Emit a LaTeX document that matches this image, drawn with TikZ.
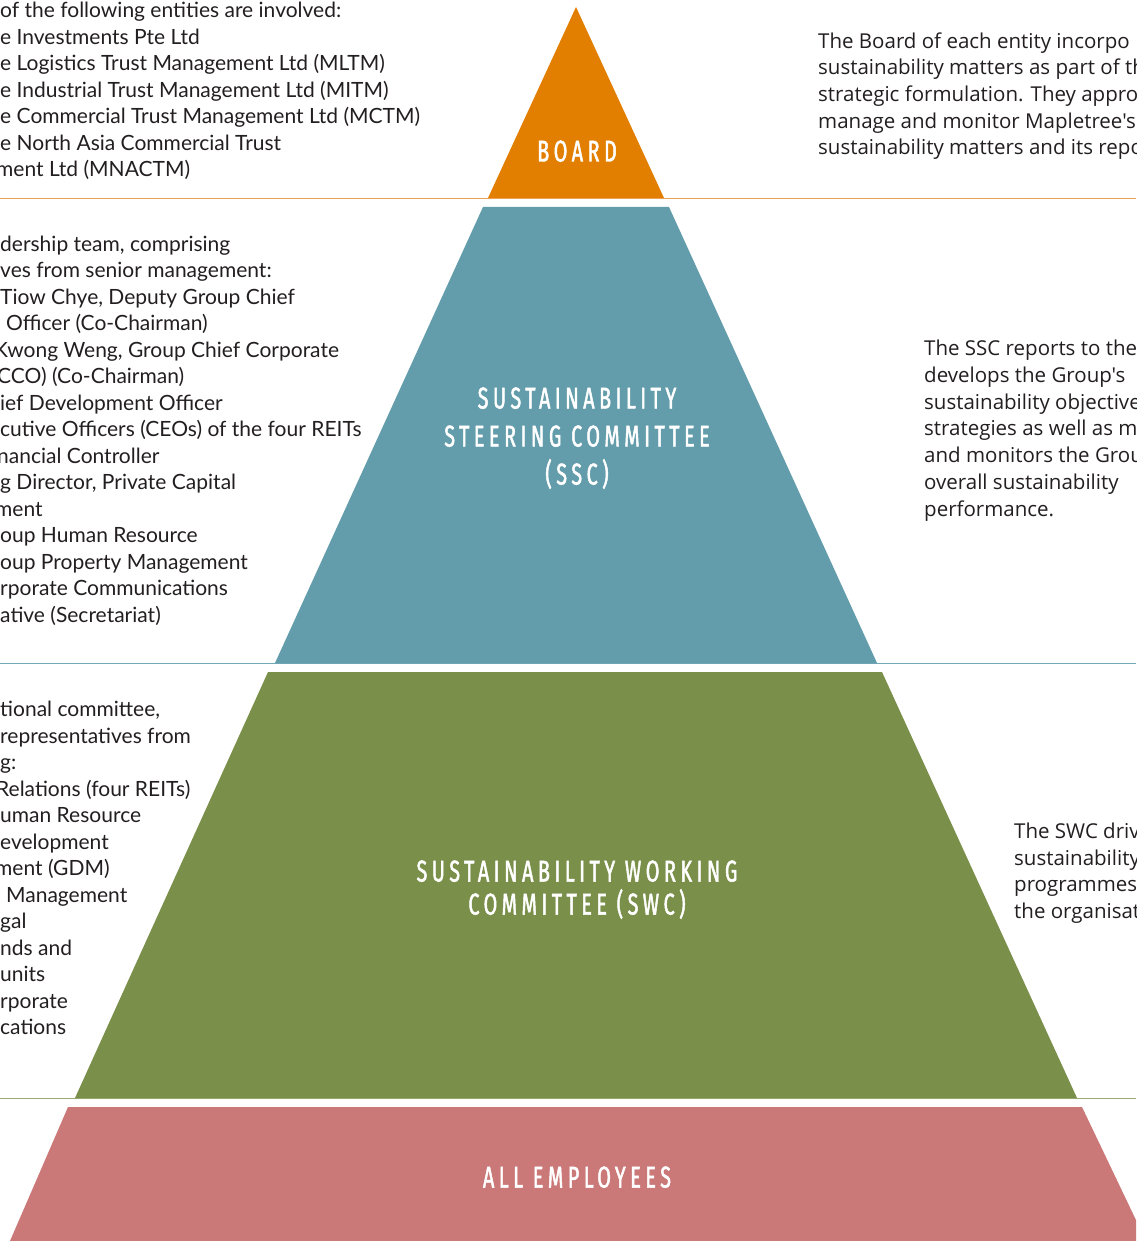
\documentclass[tikz,border=0pt]{standalone}
\usepackage{fontspec}
\setmainfont{Lato}
\newfontfamily\leftfont{Lato}
\newfontfamily\rightfont{Open Sans}
\newfontfamily\labfont[LetterSpace=15,FakeStretch=0.66,FakeBold=1.6]{Fira Sans}
\definecolor{boardc}{HTML}{E27F00}
\definecolor{boardl}{HTML}{E9A157}
\definecolor{sscc}{HTML}{639CAA}
\definecolor{sscl}{HTML}{72A8B6}
\definecolor{swcc}{HTML}{7A8F4A}
\definecolor{swcl}{HTML}{98AA72}
\definecolor{empc}{HTML}{CA7878}
\definecolor{txt}{HTML}{231F20}
\tikzset{
  lefttext/.style={anchor=base west, align=left, inner sep=0pt, text=txt,
    font=\leftfont\fontsize{21}{26.5}\selectfont},
  righttext/.style={anchor=base west, align=left, inner sep=0pt, text=txt,
    font=\rightfont\fontsize{20.5}{26.7}\selectfont},
  tierlabel/.style={anchor=base, inner sep=0pt, text=white,
    font=\labfont\fontsize{30}{30}\selectfont},
  sepline/.style={line width=1.8pt}
}
\begin{document}
\begin{tikzpicture}[x=1pt,y=-1pt]
\useasboundingbox (0,0) rectangle (1136,1241);
\clip (0,0) rectangle (1136,1241);
\fill[white] (0,0) rectangle (1136,1241);

% separator lines
\coordinate (l1a) at (0,198.5); \coordinate (l1b) at (1136,198.5);
\coordinate (l2a) at (0,663.5); \coordinate (l2b) at (1136,663.5);
\coordinate (l3a) at (0,1098.5); \coordinate (l3b) at (1136,1098.5);
\draw[sepline, boardl] (l1a) -- (l1b);
\draw[sepline, sscl] (l2a) -- (l2b);
\draw[sepline, swcl] (l3a) -- (l3b);

% tiers
\fill[boardc] (576,7) -- (664,198) -- (488,198) -- cycle;
\fill[sscc] (483,207) -- (669,207) -- (877,663) -- (275,663) -- cycle;
\fill[swcc] (268,672) -- (882,672) -- (1077,1098) -- (75,1098) -- cycle;
\fill[empc] (68,1107) -- (1082,1107) -- (1146,1241) -- (10,1241) -- cycle;

% tier labels
\node[tierlabel] (board) at (577,161.5) {BOARD};
\node[tierlabel] (ssc1) at (577,408.5) {SUSTAINABILITY};
\node[tierlabel] (ssc2) at (577,446.5) {STEERING COMMITTEE};
\node[tierlabel] (ssc3) at (577,484.5) {(SSC)};
\node[tierlabel] (swc1) at (577,881.5) {SUSTAINABILITY WORKING};
\node[tierlabel] (swc2) at (577,914.5) {COMMITTEE (SWC)};
\node[tierlabel] (emp) at (577,1187.5) {ALL EMPLOYEES};

% left texts (anchored at the baseline of the last line)
\node[lefttext] (boardleft) at (0,177) {of the following entities are involved:\\
e Investments Pte Ltd\\
e Logistics Trust Management Ltd (MLTM)\\
e Industrial Trust Management Ltd (MITM)\\
e Commercial Trust Management Ltd (MCTM)\\
e North Asia Commercial Trust\\
\hspace*{-4pt}ment Ltd (MNACTM)};

\node[lefttext] (sscleft) at (0,622) {dership team, comprising\\
ves from senior management:\\
Tiow Chye, Deputy Group Chief\\
\hspace*{6pt}Officer (Co-Chairman)\\
\hspace*{-6pt}Kwong Weng, Group Chief Corporate\\
\hspace*{-3pt}CCO) (Co-Chairman)\\
ief Development Officer\\
cutive Officers (CEOs) of the four REITs\\
\hspace*{-3pt}nancial Controller\\
g Director, Private Capital\\
\hspace*{-5pt}ment\\
oup Human Resource\\
oup Property Management\\
rporate Communications\\
ative (Secretariat)};

\node[lefttext] (swcleft) at (0,1034.5) {tional committee,\\
representatives from\\
g:\\
\hspace*{-4pt}Relations (four REITs)\\
uman Resource\\
evelopment\\
\hspace*{-5pt}ment (GDM)\\
\hspace*{6pt}Management\\
gal\\
nds and\\
units\\
rporate\\
cations};

% right texts (anchored at the baseline of the last line)
\node[righttext] (boardright) at (818,155) {The Board of each entity incorpo\\
sustainability matters as part of th\\
strategic formulation. They appro\\
manage and monitor Mapletree's\\
sustainability matters and its repo};

\node[righttext] (sscright) at (924,516) {The SSC reports to the\\
develops the Group's\\
sustainability objective\\
strategies as well as m\\
and monitors the Grou\\
overall sustainability\\
performance.};

\node[righttext] (swcright) at (1014,918.5) {The SWC driv\\
sustainability\\
programmes\\
the organisat};
\end{tikzpicture}
\end{document}
